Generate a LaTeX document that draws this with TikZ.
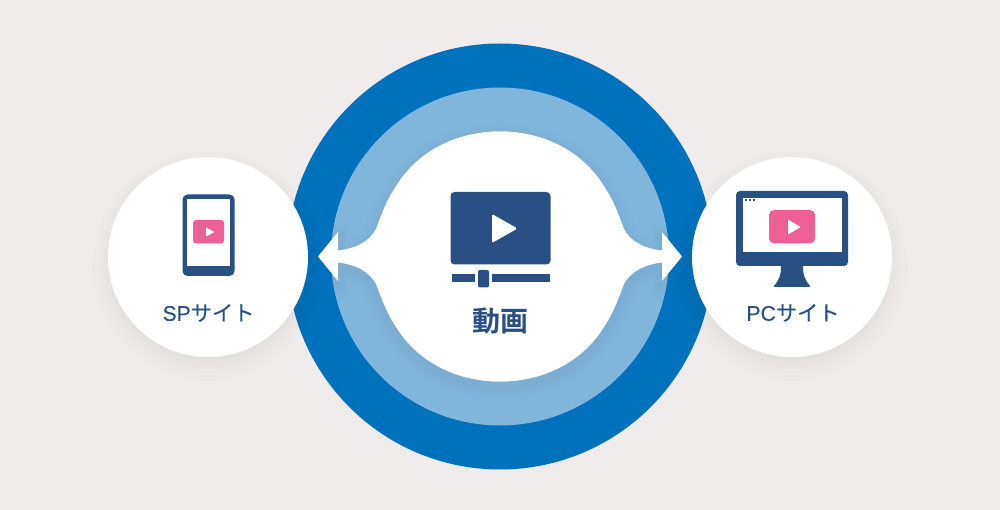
\documentclass[tikz,border=0pt]{standalone}
\usepackage{fontspec}
\setmainfont{Liberation Sans}[FakeBold=0.25]
\newfontfamily\cjk{Noto Sans CJK JP}[FakeBold=0.2]
\newfontfamily\cjkb{Noto Sans CJK JP Bold}
\usetikzlibrary{calc}
\definecolor{bgc}{HTML}{F0ECEC}
\definecolor{outerc}{HTML}{0071BC}
\definecolor{midc}{HTML}{80B6DC}
\definecolor{navy}{HTML}{285085}
\definecolor{pinkc}{HTML}{EE6095}
\definecolor{shadec}{HTML}{10304F}
\tikzset{
  x=1pt,y=-1pt,
  navyfill/.style={fill=navy,draw=none},
  whitefill/.style={fill=white,draw=none},
  pinkfill/.style={fill=pinkc,draw=none},
  disc/.style={circle,fill=white,draw=none,minimum size=200pt,inner sep=0pt},
  sitelabel/.style={text=navy,inner sep=0pt,font=\fontsize{21.2}{24}\selectfont},
  mainlabel/.style={text=navy,inner sep=0pt,font=\cjkb\fontsize{28}{30}\selectfont},
}
\newcommand{\hubpath}{
  (318,256.5) -- (338,232) -- (338,250.5)
  .. controls (356,248.5) and (370,241) .. (376,229)
  .. controls (381,216) and (386,201) .. (393,191)
  .. controls (415,152) and (455,131.5) .. (500,131.5)
  .. controls (545,131.5) and (585,152) .. (607,191)
  .. controls (614,201) and (619,216) .. (624,229)
  .. controls (630,241) and (644,248.5) .. (662,250.5)
  -- (662,232) -- (682,256.5) -- (662,281) -- (662,262.5)
  .. controls (644,264.5) and (630,272) .. (624,284)
  .. controls (619,297) and (614,311) .. (607,322)
  .. controls (585,361) and (545,381.5) .. (500,381.5)
  .. controls (455,381.5) and (415,361) .. (393,322)
  .. controls (386,311) and (381,297) .. (376,284)
  .. controls (370,272) and (356,264.5) .. (338,262.5)
  -- (338,281) -- cycle
}
\begin{document}
\begin{tikzpicture}
\useasboundingbox (0,0) rectangle (1000,510);
\fill[bgc] (0,0) rectangle (1000,510);
\fill[outerc] (500,256.5) circle[radius=213];
\fill[midc] (500,256.5) circle[radius=169];
% soft shadow of the central shape, inside the pale ring
\begin{scope}
  \clip (500,256.5) circle[radius=169];
  \begin{scope}[yshift=-5pt]
  \foreach \w in {4,10,...,28}{
    \draw[line width=\w pt,shadec,opacity=0.006,line join=round] \hubpath;
  }
  \end{scope}
\end{scope}
% central shape with its two arrows
\fill[white] \hubpath;
\fill[white] (500,256.5) circle[radius=125];
% shadows of the side discs
\foreach \r in {96,100,...,116}{
  \fill[black,opacity=0.006] (208,265) circle[radius=\r];
  \fill[black,opacity=0.006] (792,265) circle[radius=\r];
}
\node[disc] (sp) at (208,257) {};
\node[disc] (pc) at (792,257) {};
% video icon
\fill[navyfill,rounded corners=4pt] (450.5,192) rectangle (550.5,264.5);
\fill[whitefill,rounded corners=1.5pt] (492,214) -- (517.5,228.5) -- (492,243) -- cycle;
\fill[navyfill] (451.5,274) rectangle (475,282);
\fill[navyfill] (492,274) rectangle (549.5,282);
\fill[navyfill,rounded corners=2pt] (478,270) rectangle (489,287.5);
\node[mainlabel] (main) at (500,321) {動画};
% phone icon
\fill[navyfill,rounded corners=5pt] (182.5,194.5) rectangle (234.5,276);
\fill[whitefill] (187,199.5) rectangle (230,266);
\fill[pinkfill,rounded corners=3pt] (193,220) rectangle (224,243.5);
\fill[whitefill] (206,227.5) -- (214.5,232) -- (206,236.5) -- cycle;
\node[sitelabel,anchor=center] (splabel) at (208.5,313) {SP{\cjk サイト}};
% monitor icon
\fill[navyfill,rounded corners=4pt] (736,191) rectangle (848,266);
\fill[whitefill] (743,198) rectangle (841.5,252.5);
\foreach \dx in {745.5,749.5,753.5}{\fill[navyfill] (\dx-1,199.5) rectangle (\dx+1,201.5);}
\fill[pinkfill,rounded corners=5pt] (769,210) rectangle (815,243.5);
\fill[whitefill,rounded corners=0.6pt] (788,219.5) -- (800.5,227) -- (788,234.5) -- cycle;
\fill[navyfill,rounded corners=1.5pt] (781,265) -- (803,265) .. controls (803,274) and (804,279) .. (811,287) -- (773,287) .. controls (780,279) and (781,274) .. (781,265) -- cycle;
\node[sitelabel,anchor=center] (pclabel) at (793,313) {PC{\cjk サイト}};
\end{tikzpicture}
\end{document}
